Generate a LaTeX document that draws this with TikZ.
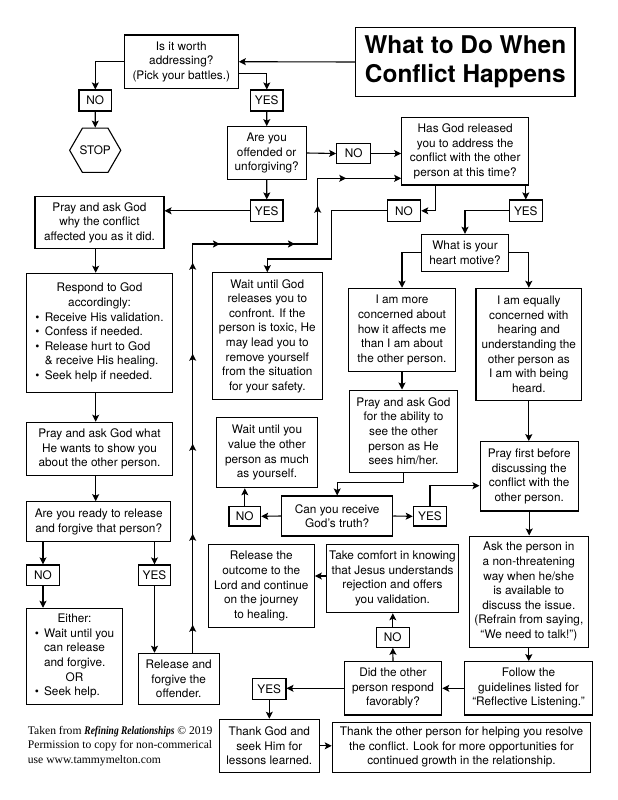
\documentclass[tikz,border=0pt]{standalone}
\usepackage{fontspec}
\setmainfont{TeX Gyre Heros}
\newfontfamily\footfont{Liberation Serif}
\usetikzlibrary{arrows.meta,shapes.geometric,decorations.markings}
\newcommand\mybul{\makebox[9.3pt][l]{\textbullet}}
\newcommand\myind{\hspace*{9.3pt}}
\tikzset{
  box/.style={draw, line width=1.1pt, inner sep=0pt, align=center,
    font=\fontsize{11.8}{14.6}\selectfont},
  tip/.tip={Stealth[length=7pt,width=7pt,inset=1.5pt]},
  arr/.style={line width=1.1pt, -tip},
  longline/.style={line width=1.1pt, -tip, postaction={decorate},
    decoration={markings,
      mark=at position 28pt with {\arrow{tip}},
      mark=at position 119pt with {\arrow{tip}},
      mark=at position 209pt with {\arrow{tip}},
      mark=at position 299pt with {\arrow{tip}},
      mark=at position 390pt with {\arrow{tip}},
      mark=at position 436pt with {\arrow{tip}},
      mark=at position 511pt with {\arrow{tip}},
      mark=at position 572pt with {\arrow{tip}},
      mark=at position 628pt with {\arrow{tip}}}}
}
\begin{document}
\begin{tikzpicture}[x=1pt,y=-1pt]
\useasboundingbox (0,0) rectangle (618,800);

% title
\node[box, minimum width=219.3pt, minimum height=69.4pt,
  font=\bfseries\fontsize{24.4}{28.5}\selectfont] (title) at (465.3,62)
  {What to Do When\\Conflict Happens};

\node[box, minimum width=114pt, minimum height=53.3pt] (isworth) at (181.3,61.7)
  {Is it worth\\addressing?\\(Pick your battles.)};
\node[box, minimum width=32.7pt, minimum height=21pt] (no1) at (95.3,100.5) {NO};
\node[draw, line width=1.1pt, regular polygon, regular polygon sides=6,
  minimum size=49.7pt, inner sep=0pt, font=\fontsize{11.8}{14.6}\selectfont]
  (stop) at (95.2,150.3) {STOP};
\node[box, minimum width=32.3pt, minimum height=21pt] (yes1) at (266.8,100.5) {YES};
\node[box, minimum width=78.7pt, minimum height=52.6pt] (areyou) at (266.7,153)
  {Are you\\offended or\\unforgiving?};
\node[box, minimum width=34pt, minimum height=20.4pt] (no2) at (353.7,153.5) {NO};
\node[box, minimum width=127pt, minimum height=67.3pt] (hasgod) at (465.2,151.3)
  {Has God released\\you to address the\\conflict with the other\\person at this time?};
\node[box, minimum width=32.3pt, minimum height=21.7pt] (yes3) at (266.8,210.8) {YES};
\node[box, minimum width=129pt, minimum height=51.6pt] (praywhy) at (99.5,222.5)
  {Pray and ask God\\why the conflict\\affected you as it did.};
\node[box, minimum width=33.4pt, minimum height=21.7pt] (no4) at (404,210.8) {NO};
\node[box, minimum width=33pt, minimum height=21.7pt] (yes5) at (525.8,210.8) {YES};
\node[box, minimum width=86.6pt, minimum height=36.7pt] (heart) at (465,252.7)
  {What is your\\heart motive?};
\node[box, minimum width=110pt, minimum height=126.6pt] (waitgod) at (267.3,336)
  {Wait until God\\releases you to\\confront. If the\\person is toxic, He\\may lead you to\\remove yourself\\from the situation\\for your safety.};
\node[box, minimum width=107.4pt, minimum height=83.4pt] (iammore) at (402,330)
  {I am more\\concerned about\\how it affects me\\than I am about\\the other person.};
\node[box, minimum width=105.7pt, minimum height=111.7pt] (iamequal) at (528.8,344.2)
  {I am equally\\concerned with\\hearing and\\understanding the\\other person as\\I am with being\\heard.};
\node[box, minimum width=145.6pt, minimum height=119pt] (respond) at (99.5,332.8)
  {\begin{tabular}{@{}l@{}}
  \multicolumn{1}{@{}c@{}}{Respond to God}\\
  \multicolumn{1}{@{}c@{}}{accordingly:}\\
  \mybul Receive His validation.\\
  \mybul Confess if needed.\\
  \mybul Release hurt to God\\
  \myind\& receive His healing.\\
  \mybul Seek help if needed.
  \end{tabular}};
\node[box, minimum width=108.4pt, minimum height=82.3pt] (prayability) at (403.5,431.2)
  {Pray and ask God\\for the ability to\\see the other\\person as He\\sees him/her.};
\node[box, minimum width=145.6pt, minimum height=53.4pt] (praywhat) at (99.5,449)
  {Pray and ask God what\\He wants to show you\\about the other person.};
\node[box, minimum width=100.6pt, minimum height=70pt] (waitvalue) at (267,452.7)
  {Wait until you\\value the other\\person as much\\as yourself.};
\node[box, minimum width=98.3pt, minimum height=69.3pt] (prayfirst) at (529.2,476.3)
  {Pray first before\\discussing the\\conflict with the\\other person.};
\node[box, minimum width=111pt, minimum height=40pt] (canyou) at (337.2,516)
  {Can you receive\\God’s truth?};
\node[box, minimum width=31.7pt, minimum height=19.3pt] (no6) at (244.8,516.3) {NO};
\node[box, minimum width=33.4pt, minimum height=19.3pt] (yes7) at (430,516.3) {YES};
\node[box, minimum width=144pt, minimum height=40pt] (ready) at (98.7,521.7)
  {Are you ready to release\\and forgive that person?};
\node[box, minimum width=106pt, minimum height=83.4pt] (releaseoutcome) at (261.3,586)
  {Release the\\outcome to the\\Lord and continue\\on the journey\\to healing.};
\node[box, minimum width=131.6pt, minimum height=68.4pt] (takecomfort) at (392.5,578.5)
  {Take comfort in knowing\\that Jesus understands\\rejection and offers\\you validation.};
\node[box, minimum width=119pt, minimum height=111.3pt] (ask) at (528.8,591.7)
  {Ask the person in\\a non-threatening\\way when he/she\\is available to\\discuss the issue.\\(Refrain from saying,\\“We need to talk!”)};
\node[box, minimum width=32.6pt, minimum height=20.7pt] (no10) at (43,575.3) {NO};
\node[box, minimum width=32.4pt, minimum height=20.7pt] (yes11) at (154.5,575.3) {YES};
\node[box, minimum width=95.6pt, minimum height=96pt] (either) at (74.5,656.3)
  {\begin{tabular}{@{}l@{}}
  \multicolumn{1}{@{}c@{}}{Either:}\\
  \mybul Wait until you\\
  \myind can release\\
  \myind and forgive.\\
  \multicolumn{1}{@{}c@{}}{OR}\\
  \mybul Seek help.
  \end{tabular}};
\node[box, minimum width=80.7pt, minimum height=51pt] (releaseforgive) at (178.7,678.8)
  {Release and\\forgive the\\offender.};
\node[box, minimum width=33pt, minimum height=20pt] (no8) at (392.8,637.3) {NO};
\node[box, minimum width=97.4pt, minimum height=53.3pt] (did) at (393,688.3)
  {Did the other\\person respond\\favorably?};
\node[box, minimum width=128.4pt, minimum height=53.3pt] (follow) at (528.5,688.3)
  {Follow the\\guidelines listed for\\“Reflective Listening.”};
\node[box, minimum width=33.3pt, minimum height=20.7pt] (yes9) at (269.3,688.7) {YES};
\node[box, minimum width=100pt, minimum height=53pt] (thankgod) at (269.3,745.8)
  {Thank God and\\seek Him for\\lessons learned.};
\node[box, minimum width=258.4pt, minimum height=50pt] (thankother) at (461.5,747.3)
  {Thank the other person for helping you resolve\\the conflict. Look for more opportunities for\\continued growth in the relationship.};

\node[anchor=west, inner sep=0pt, align=left,
  font=\footfont\fontsize{11.6}{14.5}\selectfont] (foot) at (27.7,746)
  {Taken from \scalebox{0.82}[1]{\textbf{\textit{Refining Relationships}}} © 2019\\
   Permission to copy for non-commerical\\use www.tammymelton.com};

% connectors
\draw[arr] (title.west) -- (isworth.east);
\draw[arr] (isworth.west) -| (no1.north);
\draw[arr] (no1.south) -- (stop.north);
\draw[arr] ([yshift=-11.6pt]isworth.east) -| (yes1.north);
\draw[arr] (yes1.south) -- (areyou.north);
\draw[arr] (areyou.east) -- (no2.west);
\draw[arr] (no2.east) -- (no2.east -| hasgod.west);
\draw[arr] (areyou.south) -- (yes3.north);
\draw[arr] (yes3.west) -- (yes3.west -| praywhy.east);
\draw[arr] ([xshift=-29.5pt]hasgod.south) |- (no4.east);
\draw[arr] (no4.west) -| (331.7,259) -| (waitgod.north);
\draw[arr] (yes5.north |- hasgod.south) -- (yes5.north);
\draw[arr] (yes5.west) -| (heart.north);
\draw[arr] (heart.west) -| (iammore.north);
\draw[arr] (heart.east) -| (iamequal.north);
\draw[arr] (iammore.south) -- (iammore.south |- prayability.north);
\draw[arr] (prayability.south) -- ++(0,10) -| (canyou.north);
\draw[arr] (iamequal.south) -- (iamequal.south |- prayfirst.north);
\draw[arr] (canyou.west) -- (no6.east);
\draw[arr] (no6.north) -- (no6.north |- waitvalue.south);
\draw[arr] (canyou.east) -- (yes7.west);
\draw[arr] (yes7.north) |- ([yshift=-9.4pt]prayfirst.west);
\draw[arr] (prayfirst.south) -- (prayfirst.south |- ask.north);
\draw[arr] (ask.south) -- (ask.south |- follow.north);
\draw[arr] (follow.west) -- (did.east);
\draw[arr] (did.north) -- (no8.south);
\draw[arr] (no8.north) -- (no8.north |- takecomfort.south);
\draw[arr] ([yshift=2.5pt]takecomfort.west) -- ([yshift=2.5pt]takecomfort.west -| releaseoutcome.east);
\draw[arr] (did.west) -- (did.west -| yes9.east);
\draw[arr] (yes9.south) -- (yes9.south |- thankgod.north);
\draw[arr] (thankgod.east) -- (thankgod.east -| thankother.west);
\draw[arr] ([xshift=-3.8pt]praywhy.south) -- ([xshift=-3.8pt]respond.north);
\draw[arr] ([xshift=-3.8pt]respond.south) -- ([xshift=-3.8pt]praywhat.north);
\draw[arr] ([xshift=-3.8pt]praywhat.south) -- ([xshift=-3pt]ready.north);
\draw[arr] (no10.north |- ready.south) -- (no10.north);
\draw[arr] (no10.south) -- (no10.south |- either.north);
\draw[arr] (yes11.north |- ready.south) -- (yes11.north);
\draw[arr] (yes11.south) -- (yes11.south |- releaseforgive.north);
\draw[longline] ([xshift=14pt]releaseforgive.north) |- (317.7,244) |- ([yshift=-27pt]hasgod.west);
\end{tikzpicture}
\end{document}
